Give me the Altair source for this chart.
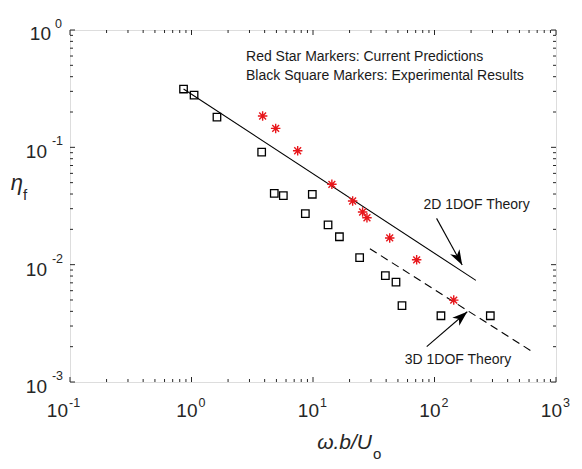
import altair as alt
import pandas as pd

# ---- data ----
exp_x = [0.86, 1.05, 1.62, 3.78, 4.8, 5.7, 9.87, 8.65, 13.3, 16.5, 24.2, 39.4, 48.2, 54.0, 113.0, 288.0]
exp_y = [0.314, 0.279, 0.181, 0.091, 0.0405, 0.0387, 0.0398, 0.0272, 0.0218, 0.0173, 0.0115, 0.00806, 0.0071, 0.00447, 0.00367, 0.00367]

pred_x = [3.85, 4.93, 7.48, 14.3, 21.2, 25.6, 27.8, 42.8, 71.3, 144.0]
pred_y = [0.185, 0.145, 0.0935, 0.0484, 0.0349, 0.0281, 0.0251, 0.0169, 0.011, 0.00499]

theory2d_x = [0.86, 219.0]
theory2d_y = [0.314, 0.00735]
theory3d_x = [29.4, 622.0]
theory3d_y = [0.01368, 0.001845]

arrow2d_x = [104.0, 169.0]
arrow2d_y = [0.0248, 0.00993]
arrow3d_x = [86.3, 186.0]
arrow3d_y = [0.0020, 0.00397]

note_x = [2.81, 2.81]
note_y = [0.589, 0.405]
note_t = ["Red Star Markers: Current Predictions", "Black Square Markers: Experimental Results"]
label_x = [222.0, 156.0]
label_y = [0.0322, 0.00154]
label_t = ["2D 1DOF Theory", "3D 1DOF Theory"]

x_major = [0.1, 1, 10, 100, 1000]
x_exp = ["-1", "0", "1", "2", "3"]
y_major = [1, 0.1, 0.01, 0.001]
y_exp = ["0", "-1", "-2", "-3"]
x_minor = [m * d for d in [0.1, 1, 10, 100] for m in range(2, 10)]
y_minor = [m * d for d in [0.001, 0.01, 0.1] for m in range(2, 10)]

W, H = 486, 352
FONT = "Liberation Sans"
INK = "#262626"

xs = alt.Scale(type="log", domain=[0.1, 1000], nice=False)
ys = alt.Scale(type="log", domain=[0.001, 1], nice=False)
X = lambda f: alt.X(f, type="quantitative", scale=xs, axis=None)
Y = lambda f: alt.Y(f, type="quantitative", scale=ys, axis=None)

df_exp = pd.DataFrame({"x": exp_x, "y": exp_y})
df_pred = pd.DataFrame({"x": pred_x, "y": pred_y})
df_2d = pd.DataFrame({"x": theory2d_x, "y": theory2d_y})
df_3d = pd.DataFrame({"x": theory3d_x, "y": theory3d_y})
df_a2 = pd.DataFrame({"x": arrow2d_x, "y": arrow2d_y})
df_a3 = pd.DataFrame({"x": arrow3d_x, "y": arrow3d_y})
df_note = pd.DataFrame({"x": note_x, "y": note_y, "t": note_t})
df_lab = pd.DataFrame({"x": label_x, "y": label_y, "t": label_t})
df_xmaj = pd.DataFrame({"v": x_major, "e": x_exp, "neg": [e.startswith("-") for e in x_exp]})
df_ymaj = pd.DataFrame({"v": y_major, "e": y_exp, "neg": [e.startswith("-") for e in y_exp]})
df_xmin = pd.DataFrame({"v": x_minor})
df_ymin = pd.DataFrame({"v": y_minor})

line2d = alt.Chart(df_2d).mark_line(color="black", strokeWidth=1.1).encode(x=X("x"), y=Y("y"))
line3d = alt.Chart(df_3d).mark_line(color="black", strokeWidth=1.1, strokeDash=[8, 5]).encode(x=X("x"), y=Y("y"))

squares = alt.Chart(df_exp).mark_point(shape="square", size=56, filled=False, color="black",
                                       strokeWidth=1.3, opacity=1).encode(x=X("x"), y=Y("y"))
asterisk = "M-1,0L1,0M0,-1L0,1M-0.72,-0.72L0.72,0.72M-0.72,0.72L0.72,-0.72"
stars = alt.Chart(df_pred).mark_point(shape=asterisk, size=90, filled=False, color="#e8161b",
                                      strokeWidth=1.4, opacity=1).encode(x=X("x"), y=Y("y"))

arrowhead = "M0,0L-0.7,2L0,1.45L0.7,2Z"
def arrow(df, angle):
    shaft = alt.Chart(df).mark_line(color="black", strokeWidth=1.1).encode(x=X("x"), y=Y("y"))
    head = alt.Chart(df.iloc[[1]]).mark_point(shape=arrowhead, size=230, filled=True, color="black",
                                             strokeWidth=0.5, opacity=1, angle=angle).encode(x=X("x"), y=Y("y"))
    return shaft + head

arr2 = arrow(df_a2, 151)
arr3 = arrow(df_a3, 49)

txt_note = alt.Chart(df_note).mark_text(font=FONT, fontSize=14, align="left", baseline="middle",
                                        color="#1a1a1a").encode(x=X("x"), y=Y("y"), text="t:N")
txt_lab = alt.Chart(df_lab).mark_text(font=FONT, fontSize=14, align="center", baseline="middle",
                                      color="#1a1a1a").encode(x=X("x"), y=Y("y"), text="t:N")

# ticks (inward, all four sides)
def xticks(df, L):
    b = alt.Chart(df).mark_rule(color=INK, strokeWidth=1)
    return (b.encode(x=X("v"), y=alt.value(H), y2=alt.value(H - L)) +
            b.encode(x=X("v"), y=alt.value(0), y2=alt.value(L)))

def yticks(df, L):
    b = alt.Chart(df).mark_rule(color=INK, strokeWidth=1)
    return (b.encode(y=Y("v"), x=alt.value(0), x2=alt.value(L)) +
            b.encode(y=Y("v"), x=alt.value(W), x2=alt.value(W - L)))

ticks = xticks(df_xmaj, 5) + xticks(df_xmin, 3) + yticks(df_ymaj, 5) + yticks(df_ymin, 3)

# tick labels 10^n
xl_pos = alt.Chart(df_xmaj).transform_filter("!datum.neg")
xl_neg = alt.Chart(df_xmaj).transform_filter("datum.neg")
xlab = (
    xl_pos.mark_text(font=FONT, fontSize=19, align="right", baseline="alphabetic", dx=6, color=INK)
    .encode(x=X("v"), y=alt.value(H + 35), text=alt.value("10")) +
    xl_pos.mark_text(font=FONT, fontSize=12.5, align="left", baseline="alphabetic", dx=7, color=INK)
    .encode(x=X("v"), y=alt.value(H + 25), text="e:N") +
    xl_neg.mark_text(font=FONT, fontSize=19, align="right", baseline="alphabetic", dx=-2, color=INK)
    .encode(x=X("v"), y=alt.value(H + 35), text=alt.value("10")) +
    xl_neg.mark_text(font=FONT, fontSize=12.5, align="left", baseline="alphabetic", dx=-1, color=INK)
    .encode(x=X("v"), y=alt.value(H + 25), text="e:N")
)
yl_pos = alt.Chart(df_ymaj).transform_filter("!datum.neg")
yl_neg = alt.Chart(df_ymaj).transform_filter("datum.neg")
ylab = (
    yl_pos.mark_text(font=FONT, fontSize=19, align="right", baseline="middle", dy=4, color=INK)
    .encode(y=Y("v"), x=alt.value(-19), text=alt.value("10")) +
    yl_pos.mark_text(font=FONT, fontSize=12.5, align="right", baseline="middle", dy=-6, color=INK)
    .encode(y=Y("v"), x=alt.value(-8), text="e:N") +
    yl_neg.mark_text(font=FONT, fontSize=19, align="right", baseline="middle", dy=5, color=INK)
    .encode(y=Y("v"), x=alt.value(-23), text=alt.value("10")) +
    yl_neg.mark_text(font=FONT, fontSize=12.5, align="right", baseline="middle", dy=-6, color=INK)
    .encode(y=Y("v"), x=alt.value(-7), text="e:N")
)

# axis titles
title_df = pd.DataFrame({"k": [0]})
tb = alt.Chart(title_df)
titles = (
    tb.mark_text(font=FONT, fontSize=21, fontStyle="italic", align="right", baseline="alphabetic", color=INK)
    .encode(x=alt.value(302), y=alt.value(H + 67), text=alt.value("\u03c9.b/U")) +
    tb.mark_text(font=FONT, fontSize=15, align="left", baseline="alphabetic", color=INK)
    .encode(x=alt.value(303), y=alt.value(H + 77), text=alt.value("o")) +
    tb.mark_text(font=FONT, fontSize=22, fontStyle="italic", align="right", baseline="alphabetic", color=INK)
    .encode(x=alt.value(-47), y=alt.value(160), text=alt.value("\u03b7")) +
    tb.mark_text(font=FONT, fontSize=15, align="left", baseline="alphabetic", color=INK)
    .encode(x=alt.value(-47), y=alt.value(170), text=alt.value("f"))
)

chart = alt.layer(
    ticks, line2d, line3d, squares, stars, arr2, arr3, txt_note, txt_lab, xlab, ylab, titles
).properties(
    width=W, height=H,
    autosize=alt.AutoSizeParams(type="none"),
    padding={"left": 62, "top": 22, "right": 18, "bottom": 79},
).configure_view(stroke=INK, strokeWidth=1).configure(background="white")

chart.save("out.html", embed_options={"renderer": "svg", "actions": False})
